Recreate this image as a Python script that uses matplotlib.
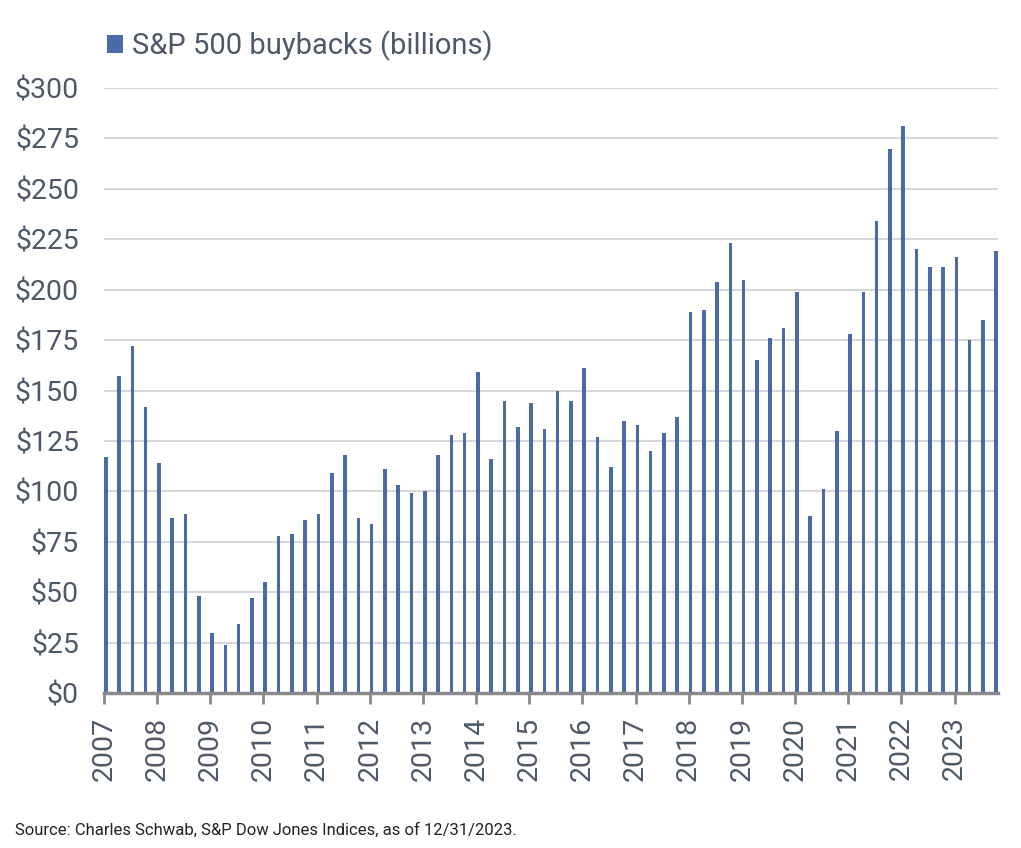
import matplotlib.pyplot as plt
import numpy as np

plt.rcParams['font.family'] = ['Roboto', 'DejaVu Sans']

# quarterly S&P 500 buybacks, 2007 Q1 .. 2023 Q4 (billions)
years = list(range(2007, 2024))
buybacks = [
    117, 157, 172, 142,   # 2007
    114, 87, 89, 48,      # 2008
    30, 24, 34, 47,       # 2009
    55, 78, 79, 86,       # 2010
    89, 109, 118, 87,     # 2011
    84, 111, 103, 99,     # 2012
    100, 118, 128, 129,   # 2013
    159, 116, 145, 132,   # 2014
    144, 131, 150, 145,   # 2015
    161, 127, 112, 135,   # 2016
    133, 120, 129, 137,   # 2017
    189, 190, 204, 223,   # 2018
    205, 165, 176, 181,   # 2019
    199, 88, 101, 130,    # 2020
    178, 199, 234, 270,   # 2021
    281, 220, 211, 211,   # 2022
    216, 175, 185, 219,   # 2023
]
yticks = [0, 25, 50, 75, 100, 125, 150, 175, 200, 225, 250, 275, 300]

bar_color = '#4a6aa6'
text_color = '#4b5968'


def main():
    fig = plt.figure(figsize=(10.21, 8.48), dpi=100)
    ax = fig.add_axes([104 / 1021, (848 - 693) / 848, 894 / 1021, 605 / 848])

    w = 0.27
    x = np.arange(len(buybacks))
    ax.bar(x, buybacks, width=w, align='edge', color=bar_color, zorder=3)

    ax.set_ylim(0, 300)
    ax.set_xlim(0, len(buybacks) - 1 + w)
    ax.set_yticks(yticks)
    ax.set_yticklabels(['${}'.format(v) for v in yticks])
    ax.set_xticks(np.arange(0, len(buybacks), 4))
    ax.set_xticklabels([str(y) for y in years], rotation=90)

    ax.grid(axis='y', color='#d3d3d3', linewidth=1.3, zorder=0)
    for s in ['top', 'right', 'left']:
        ax.spines[s].set_visible(False)
    ax.spines['bottom'].set_color('#8a8a8a')
    ax.spines['bottom'].set_linewidth(2.5)
    ax.spines['bottom'].set_zorder(4)

    ax.tick_params(axis='y', length=0, pad=18, labelsize=20.5, labelcolor=text_color)
    ax.tick_params(axis='x', length=8, width=2, color='#8a8a8a', pad=9,
                   labelsize=20.5, labelcolor=text_color)

    # legend
    ax.bar([0], [0], color=bar_color, label='S&P 500 buybacks (billions)')
    fig.legend(loc='upper left', bbox_to_anchor=(81 / 1021, 1 - 4 / 848),
               frameon=False, fontsize=21, handlelength=0.55, handleheight=0.55,
               handletextpad=0.3, labelcolor=text_color)

    fig.text(15 / 1021, 1 - 830 / 848,
             'Source: Charles Schwab, S&P Dow Jones Indices, as of 12/31/2023.',
             fontsize=12, color='#222222', va='center')

    fig.savefig('out.png', dpi=100)


if __name__ == "__main__":
    main()
